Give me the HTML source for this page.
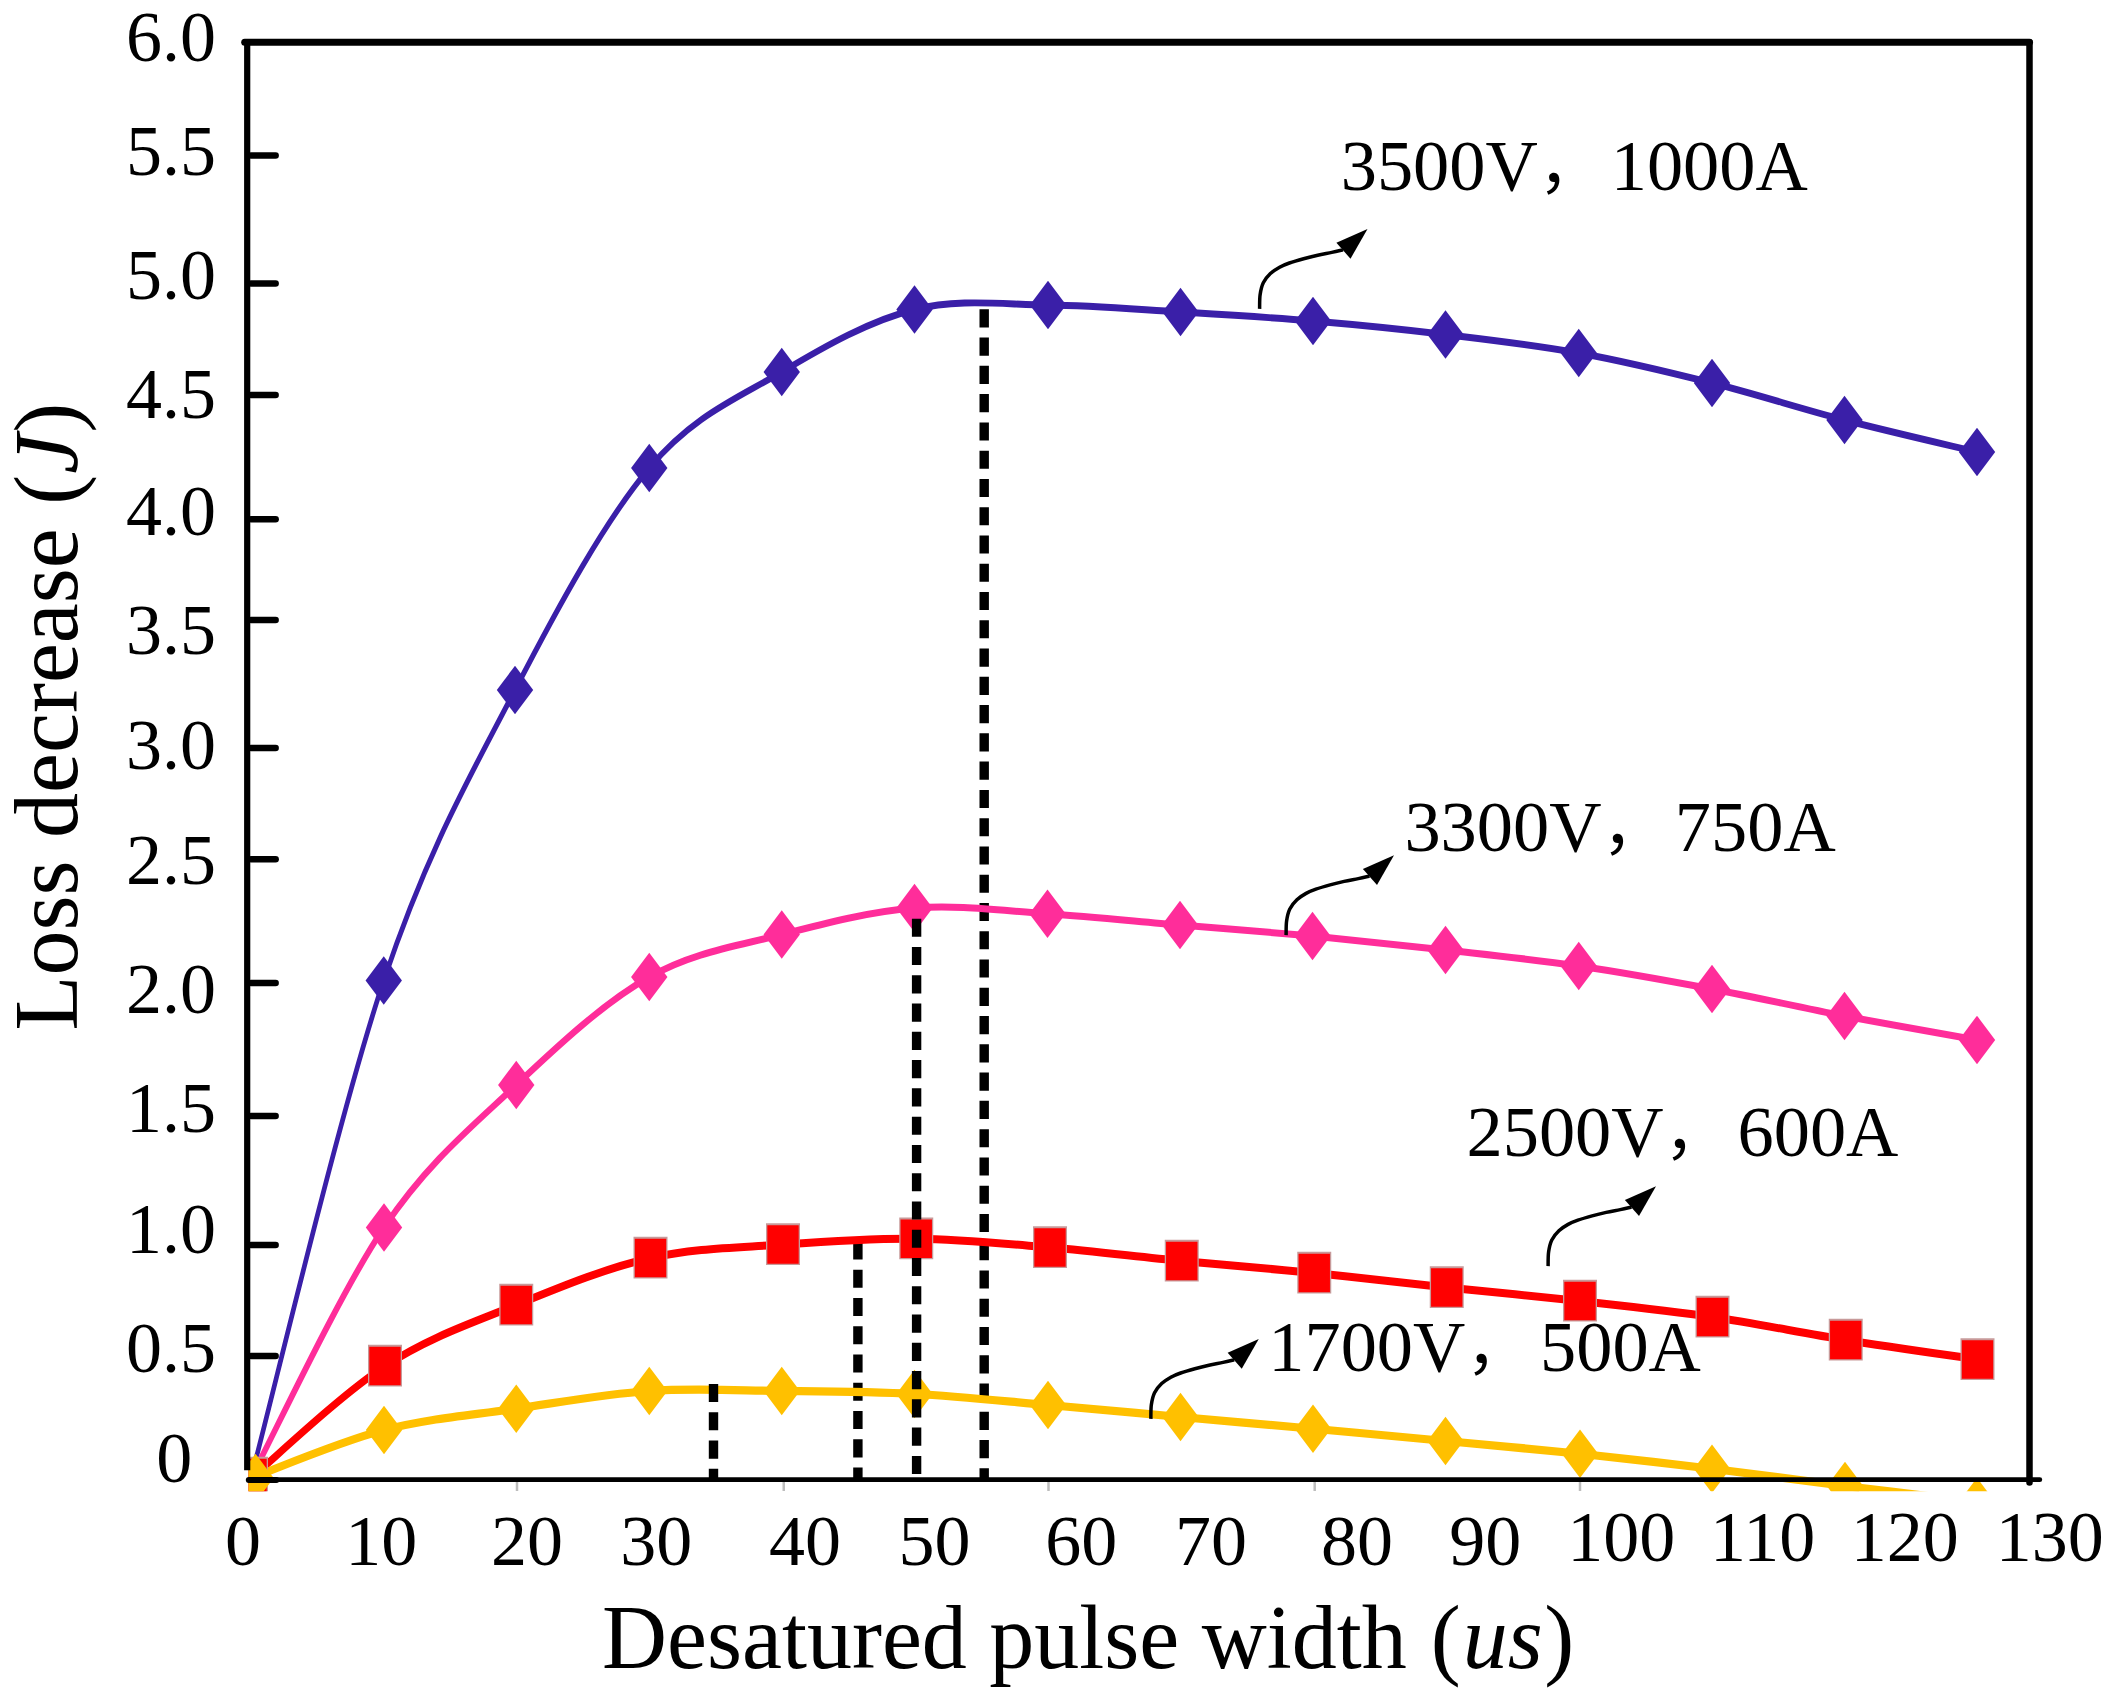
<!DOCTYPE html>
<html lang="en"><head><meta charset="utf-8"><title>Loss decrease vs desatured pulse width</title>
<style>
html,body{margin:0;padding:0;background:#fff;}
body{width:2118px;height:1699px;overflow:hidden;}
svg{display:block;}
text{font-family:"Liberation Serif", "Noto Serif CJK SC", serif;fill:#000;}
.t{font-size:72px;}
.lab{font-size:72.4px;}
.ttl{font-size:90px;}
tspan.cm{font-family:"Liberation Sans","Noto Sans CJK SC",sans-serif;font-size:64px;}
</style></head><body>
<svg width="2118" height="1699" viewBox="0 0 2118 1699">
<rect width="2118" height="1699" fill="#fff"/>
<defs><clipPath id="plot"><rect x="248.5" y="40" width="1790" height="1451.3"/></clipPath></defs>
<line x1="517" y1="1480" x2="517" y2="1491" stroke="#bdbdbd" stroke-width="2.5"/>
<line x1="783.75" y1="1480" x2="783.75" y2="1491" stroke="#bdbdbd" stroke-width="2.5"/>
<line x1="1048.5" y1="1480" x2="1048.5" y2="1491" stroke="#bdbdbd" stroke-width="2.5"/>
<line x1="1314.7" y1="1480" x2="1314.7" y2="1491" stroke="#bdbdbd" stroke-width="2.5"/>
<line x1="1580" y1="1480" x2="1580" y2="1491" stroke="#bdbdbd" stroke-width="2.5"/>
<g clip-path="url(#plot)">
<line x1="984.2" y1="309.3" x2="984.2" y2="1479" stroke="#000" stroke-width="9.4" stroke-dasharray="18.1 10.17"/>
<line x1="857.9" y1="1241.4" x2="857.9" y2="1482" stroke="#000" stroke-width="9.4" stroke-dasharray="18.1 10.17"/>
<g transform="scale(1,1.25)">
<path transform="scale(1,1.2)" d="M251.00,985.33 C273.12,930.06 339.75,741.22 383.75,653.67 C427.75,566.11 470.75,516.94 515.00,460.00 C559.25,403.06 604.79,347.33 649.25,312.00 C693.71,276.67 737.54,265.61 781.75,248.00 C825.96,230.39 870.12,213.78 914.50,206.33 C958.88,198.89 1003.67,203.06 1048.00,203.33 C1092.33,203.61 1136.33,206.22 1180.50,208.00 C1224.67,209.78 1268.83,211.50 1313.00,214.00 C1357.17,216.50 1401.21,219.44 1445.50,223.00 C1489.79,226.56 1534.33,229.94 1578.75,235.33 C1623.17,240.72 1667.71,247.89 1712.00,255.33 C1756.29,262.78 1800.33,272.33 1844.50,280.00 C1888.67,287.67 1954.92,297.78 1977.00,301.33" fill="none" stroke="#3a1fa8" stroke-width="4.6" stroke-linejoin="round"/>
<path d="M251.00,1182.40 C273.17,1149.00 339.79,1034.40 384.00,982.00 C428.21,929.60 472.04,901.40 516.25,868.00 C560.46,834.60 605.00,801.67 649.25,781.60 C693.50,761.53 737.54,756.80 781.75,747.60 C825.96,738.40 870.21,729.17 914.50,726.40 C958.79,723.63 1003.25,728.73 1047.50,731.00 C1091.75,733.27 1135.83,737.03 1180.00,740.00 C1224.17,742.97 1268.25,745.47 1312.50,748.80 C1356.75,752.13 1401.12,756.00 1445.50,760.00 C1489.88,764.00 1534.33,767.60 1578.75,772.80 C1623.17,778.00 1667.71,784.53 1712.00,791.20 C1756.29,797.87 1800.33,806.00 1844.50,812.80 C1888.67,819.60 1954.92,828.80 1977.00,832.00" fill="none" stroke="#ff2d9a" stroke-width="5.6" stroke-linejoin="round"/>
<path d="M251.00,1182.40 C273.33,1167.47 340.79,1115.87 385.00,1092.80 C429.21,1069.73 472.00,1058.40 516.25,1044.00 C560.50,1029.60 606.04,1014.47 650.50,1006.40 C694.96,998.33 738.71,998.17 783.00,995.60 C827.29,993.03 871.75,990.60 916.25,991.00 C960.75,991.40 1005.75,995.03 1050.00,998.00 C1094.25,1000.97 1137.71,1005.40 1181.75,1008.80 C1225.79,1012.20 1270.08,1014.87 1314.25,1018.40 C1358.42,1021.93 1402.46,1026.27 1446.75,1030.00 C1491.04,1033.73 1535.71,1036.87 1580.00,1040.80 C1624.29,1044.73 1668.21,1048.40 1712.50,1053.60 C1756.79,1058.80 1801.58,1066.33 1845.75,1072.00 C1889.92,1077.67 1955.54,1085.00 1977.50,1087.60" fill="none" stroke="#ff0000" stroke-width="6.4" stroke-linejoin="round"/>
<path d="M251.00,1182.40 C273.17,1176.00 339.79,1153.23 384.00,1144.00 C428.21,1134.77 472.04,1132.20 516.25,1127.00 C560.46,1121.80 605.00,1115.17 649.25,1112.80 C693.50,1110.43 737.54,1112.40 781.75,1112.80 C825.96,1113.20 870.12,1113.33 914.50,1115.20 C958.88,1117.07 1003.67,1120.93 1048.00,1124.00 C1092.33,1127.07 1136.33,1130.43 1180.50,1133.60 C1224.67,1136.77 1268.83,1139.80 1313.00,1143.00 C1357.17,1146.20 1401.00,1149.47 1445.50,1152.80 C1490.00,1156.13 1535.58,1159.30 1580.00,1163.00 C1624.42,1166.70 1667.83,1170.70 1712.00,1175.00 C1756.17,1179.30 1800.83,1184.37 1845.00,1188.80 C1889.17,1193.23 1955.00,1199.47 1977.00,1201.60" fill="none" stroke="#ffc000" stroke-width="6.6" stroke-linejoin="round"/>
<path d="M383.75,764.96 L401.95,784.40 L383.75,803.84 L365.55,784.40Z" fill="#3a1fa8"/>
<path d="M515.00,532.56 L533.20,552.00 L515.00,571.44 L496.80,552.00Z" fill="#3a1fa8"/>
<path d="M649.25,354.96 L667.45,374.40 L649.25,393.84 L631.05,374.40Z" fill="#3a1fa8"/>
<path d="M781.75,278.16 L799.95,297.60 L781.75,317.04 L763.55,297.60Z" fill="#3a1fa8"/>
<path d="M914.50,228.16 L932.70,247.60 L914.50,267.04 L896.30,247.60Z" fill="#3a1fa8"/>
<path d="M1048.00,224.56 L1066.20,244.00 L1048.00,263.44 L1029.80,244.00Z" fill="#3a1fa8"/>
<path d="M1180.50,230.16 L1198.70,249.60 L1180.50,269.04 L1162.30,249.60Z" fill="#3a1fa8"/>
<path d="M1313.00,237.36 L1331.20,256.80 L1313.00,276.24 L1294.80,256.80Z" fill="#3a1fa8"/>
<path d="M1445.50,248.16 L1463.70,267.60 L1445.50,287.04 L1427.30,267.60Z" fill="#3a1fa8"/>
<path d="M1578.75,262.96 L1596.95,282.40 L1578.75,301.84 L1560.55,282.40Z" fill="#3a1fa8"/>
<path d="M1712.00,286.96 L1730.20,306.40 L1712.00,325.84 L1693.80,306.40Z" fill="#3a1fa8"/>
<path d="M1844.50,316.56 L1862.70,336.00 L1844.50,355.44 L1826.30,336.00Z" fill="#3a1fa8"/>
<path d="M1977.00,342.16 L1995.20,361.60 L1977.00,381.04 L1958.80,361.60Z" fill="#3a1fa8"/>
<path d="M384.00,962.56 L402.20,982.00 L384.00,1001.44 L365.80,982.00Z" fill="#ff2d9a"/>
<path d="M516.25,848.56 L534.45,868.00 L516.25,887.44 L498.05,868.00Z" fill="#ff2d9a"/>
<path d="M649.25,762.16 L667.45,781.60 L649.25,801.04 L631.05,781.60Z" fill="#ff2d9a"/>
<path d="M781.75,728.16 L799.95,747.60 L781.75,767.04 L763.55,747.60Z" fill="#ff2d9a"/>
<path d="M914.50,706.96 L932.70,726.40 L914.50,745.84 L896.30,726.40Z" fill="#ff2d9a"/>
<path d="M1047.50,711.56 L1065.70,731.00 L1047.50,750.44 L1029.30,731.00Z" fill="#ff2d9a"/>
<path d="M1180.00,720.56 L1198.20,740.00 L1180.00,759.44 L1161.80,740.00Z" fill="#ff2d9a"/>
<path d="M1312.50,729.36 L1330.70,748.80 L1312.50,768.24 L1294.30,748.80Z" fill="#ff2d9a"/>
<path d="M1445.50,740.56 L1463.70,760.00 L1445.50,779.44 L1427.30,760.00Z" fill="#ff2d9a"/>
<path d="M1578.75,753.36 L1596.95,772.80 L1578.75,792.24 L1560.55,772.80Z" fill="#ff2d9a"/>
<path d="M1712.00,771.76 L1730.20,791.20 L1712.00,810.64 L1693.80,791.20Z" fill="#ff2d9a"/>
<path d="M1844.50,793.36 L1862.70,812.80 L1844.50,832.24 L1826.30,812.80Z" fill="#ff2d9a"/>
<path d="M1977.00,812.56 L1995.20,832.00 L1977.00,851.44 L1958.80,832.00Z" fill="#ff2d9a"/>
<rect x="234.00" y="1165.40" width="34.00" height="33.40" fill="#c79a9a"/>
<rect x="235.30" y="1167.00" width="31.40" height="30.80" fill="#ff0000"/>
<rect x="368.00" y="1075.80" width="34.00" height="33.40" fill="#c79a9a"/>
<rect x="369.30" y="1077.40" width="31.40" height="30.80" fill="#ff0000"/>
<rect x="499.25" y="1027.00" width="34.00" height="33.40" fill="#c79a9a"/>
<rect x="500.55" y="1028.60" width="31.40" height="30.80" fill="#ff0000"/>
<rect x="633.50" y="989.40" width="34.00" height="33.40" fill="#c79a9a"/>
<rect x="634.80" y="991.00" width="31.40" height="30.80" fill="#ff0000"/>
<rect x="766.00" y="978.60" width="34.00" height="33.40" fill="#c79a9a"/>
<rect x="767.30" y="980.20" width="31.40" height="30.80" fill="#ff0000"/>
<rect x="899.25" y="974.00" width="34.00" height="33.40" fill="#c79a9a"/>
<rect x="900.55" y="975.60" width="31.40" height="30.80" fill="#ff0000"/>
<rect x="1033.00" y="981.00" width="34.00" height="33.40" fill="#c79a9a"/>
<rect x="1034.30" y="982.60" width="31.40" height="30.80" fill="#ff0000"/>
<rect x="1164.75" y="991.80" width="34.00" height="33.40" fill="#c79a9a"/>
<rect x="1166.05" y="993.40" width="31.40" height="30.80" fill="#ff0000"/>
<rect x="1297.25" y="1001.40" width="34.00" height="33.40" fill="#c79a9a"/>
<rect x="1298.55" y="1003.00" width="31.40" height="30.80" fill="#ff0000"/>
<rect x="1429.75" y="1013.00" width="34.00" height="33.40" fill="#c79a9a"/>
<rect x="1431.05" y="1014.60" width="31.40" height="30.80" fill="#ff0000"/>
<rect x="1563.00" y="1023.80" width="34.00" height="33.40" fill="#c79a9a"/>
<rect x="1564.30" y="1025.40" width="31.40" height="30.80" fill="#ff0000"/>
<rect x="1695.50" y="1036.60" width="34.00" height="33.40" fill="#c79a9a"/>
<rect x="1696.80" y="1038.20" width="31.40" height="30.80" fill="#ff0000"/>
<rect x="1828.75" y="1055.00" width="34.00" height="33.40" fill="#c79a9a"/>
<rect x="1830.05" y="1056.60" width="31.40" height="30.80" fill="#ff0000"/>
<rect x="1960.50" y="1070.60" width="34.00" height="33.40" fill="#c79a9a"/>
<rect x="1961.80" y="1072.20" width="31.40" height="30.80" fill="#ff0000"/>
<path d="M255.50,1162.96 L273.70,1182.40 L255.50,1201.84 L237.30,1182.40Z" fill="#ffc000"/>
<path d="M384.00,1124.56 L402.20,1144.00 L384.00,1163.44 L365.80,1144.00Z" fill="#ffc000"/>
<path d="M516.25,1107.56 L534.45,1127.00 L516.25,1146.44 L498.05,1127.00Z" fill="#ffc000"/>
<path d="M649.25,1093.36 L667.45,1112.80 L649.25,1132.24 L631.05,1112.80Z" fill="#ffc000"/>
<path d="M781.75,1093.36 L799.95,1112.80 L781.75,1132.24 L763.55,1112.80Z" fill="#ffc000"/>
<path d="M914.50,1095.76 L932.70,1115.20 L914.50,1134.64 L896.30,1115.20Z" fill="#ffc000"/>
<path d="M1048.00,1104.56 L1066.20,1124.00 L1048.00,1143.44 L1029.80,1124.00Z" fill="#ffc000"/>
<path d="M1180.50,1114.16 L1198.70,1133.60 L1180.50,1153.04 L1162.30,1133.60Z" fill="#ffc000"/>
<path d="M1313.00,1123.56 L1331.20,1143.00 L1313.00,1162.44 L1294.80,1143.00Z" fill="#ffc000"/>
<path d="M1445.50,1133.36 L1463.70,1152.80 L1445.50,1172.24 L1427.30,1152.80Z" fill="#ffc000"/>
<path d="M1580.00,1143.56 L1598.20,1163.00 L1580.00,1182.44 L1561.80,1163.00Z" fill="#ffc000"/>
<path d="M1712.00,1155.56 L1730.20,1175.00 L1712.00,1194.44 L1693.80,1175.00Z" fill="#ffc000"/>
<path d="M1845.00,1169.36 L1863.20,1188.80 L1845.00,1208.24 L1826.80,1188.80Z" fill="#ffc000"/>
<path d="M1977.00,1182.16 L1995.20,1201.60 L1977.00,1221.04 L1958.80,1201.60Z" fill="#ffc000"/>
</g>
<line x1="916.6" y1="918.75" x2="916.6" y2="1474" stroke="#000" stroke-width="9.4" stroke-dasharray="18.1 10.17"/>
<line x1="713.5" y1="1384" x2="713.5" y2="1479" stroke="#000" stroke-width="9.4" stroke-dasharray="18.1 10.17"/>
</g>
<line x1="247.2" y1="42.2" x2="247.2" y2="1470.3" stroke="#000" stroke-width="6.2"/>
<line x1="244.7" y1="42.2" x2="2029.5" y2="42.2" stroke="#000" stroke-width="7" stroke-linecap="round"/>
<line x1="2029.5" y1="42.2" x2="2029.5" y2="1482.5" stroke="#000" stroke-width="6.5" stroke-linecap="round"/>
<line x1="252" y1="1479.7" x2="2039.8" y2="1479.7" stroke="#000" stroke-width="4.8" stroke-linecap="round"/>
<line x1="248.8" y1="1480" x2="276.4" y2="1480" stroke="#000" stroke-width="6" stroke-linecap="round"/>
<line x1="251" y1="155.5" x2="275.6" y2="155.5" stroke="#000" stroke-width="6.6" stroke-linecap="round"/>
<line x1="251" y1="283.5" x2="275.6" y2="283.5" stroke="#000" stroke-width="6.6" stroke-linecap="round"/>
<line x1="251" y1="395.0" x2="275.6" y2="395.0" stroke="#000" stroke-width="6.6" stroke-linecap="round"/>
<line x1="251" y1="519.25" x2="275.6" y2="519.25" stroke="#000" stroke-width="6.6" stroke-linecap="round"/>
<line x1="251" y1="620.0" x2="275.6" y2="620.0" stroke="#000" stroke-width="6.6" stroke-linecap="round"/>
<line x1="251" y1="748.0" x2="275.6" y2="748.0" stroke="#000" stroke-width="6.6" stroke-linecap="round"/>
<line x1="251" y1="859.25" x2="275.6" y2="859.25" stroke="#000" stroke-width="6.6" stroke-linecap="round"/>
<line x1="251" y1="983.0" x2="275.6" y2="983.0" stroke="#000" stroke-width="6.6" stroke-linecap="round"/>
<line x1="251" y1="1116.0" x2="275.6" y2="1116.0" stroke="#000" stroke-width="6.6" stroke-linecap="round"/>
<line x1="251" y1="1245.0" x2="275.6" y2="1245.0" stroke="#000" stroke-width="6.6" stroke-linecap="round"/>
<line x1="251" y1="1356.0" x2="275.6" y2="1356.0" stroke="#000" stroke-width="6.6" stroke-linecap="round"/>
<text class="t" x="126" y="61">6.0</text>
<text class="t" x="126" y="175">5.5</text>
<text class="t" x="126" y="299">5.0</text>
<text class="t" x="126" y="418">4.5</text>
<text class="t" x="126" y="534.5">4.0</text>
<text class="t" x="126" y="653.75">3.5</text>
<text class="t" x="126" y="768.75">3.0</text>
<text class="t" x="126" y="883.75">2.5</text>
<text class="t" x="126" y="1012.5">2.0</text>
<text class="t" x="126" y="1132">1.5</text>
<text class="t" x="126" y="1252.5">1.0</text>
<text class="t" x="126" y="1372">0.5</text>
<text class="t" x="156.3" y="1482">0</text>
<text class="t" x="225" y="1565">0</text>
<text class="t" x="345.3" y="1565">10</text>
<text class="t" x="491.1" y="1565">20</text>
<text class="t" x="620.2" y="1565">30</text>
<text class="t" x="769.1" y="1565">40</text>
<text class="t" x="898.4" y="1565">50</text>
<text class="t" x="1045.3" y="1565">60</text>
<text class="t" x="1175" y="1565">70</text>
<text class="t" x="1321" y="1565">80</text>
<text class="t" x="1449.3" y="1565">90</text>
<text class="t" x="1567.3" y="1561">100</text>
<text class="t" x="1710" y="1561">110</text>
<text class="t" x="1850.7" y="1561">120</text>
<text class="t" x="1995.7" y="1561">130</text>
<path d="M1259.60,308.90 C1259.68,306.55 1259.48,299.15 1260.10,294.80 C1260.72,290.45 1261.58,286.33 1263.30,282.80 C1265.02,279.27 1267.68,276.20 1270.40,273.60 C1273.12,271.00 1276.43,268.97 1279.60,267.20 C1282.77,265.43 1285.40,264.42 1289.40,263.00 C1293.40,261.58 1298.88,260.00 1303.60,258.70 C1308.32,257.40 1313.00,256.25 1317.70,255.20 C1322.40,254.15 1327.58,253.28 1331.80,252.40 C1336.02,251.52 1341.13,250.32 1343.00,249.90" fill="none" stroke="#000" stroke-width="3.5" stroke-linecap="butt"/>
<path d="M1367.50,229.10 L1336.40,242.80 L1350.50,258.70Z" fill="#000"/>
<path d="M1286.10,935.10 C1286.18,932.75 1285.98,925.35 1286.60,921.00 C1287.22,916.65 1288.08,912.53 1289.80,909.00 C1291.52,905.47 1294.18,902.40 1296.90,899.80 C1299.62,897.20 1302.93,895.17 1306.10,893.40 C1309.27,891.63 1311.90,890.62 1315.90,889.20 C1319.90,887.78 1325.38,886.20 1330.10,884.90 C1334.82,883.60 1339.50,882.45 1344.20,881.40 C1348.90,880.35 1354.08,879.48 1358.30,878.60 C1362.52,877.72 1367.63,876.52 1369.50,876.10" fill="none" stroke="#000" stroke-width="3.5" stroke-linecap="butt"/>
<path d="M1394.00,855.30 L1362.90,869.00 L1377.00,884.90Z" fill="#000"/>
<path d="M1548.10,1266.10 C1548.18,1263.75 1547.98,1256.35 1548.60,1252.00 C1549.22,1247.65 1550.08,1243.53 1551.80,1240.00 C1553.52,1236.47 1556.18,1233.40 1558.90,1230.80 C1561.62,1228.20 1564.93,1226.17 1568.10,1224.40 C1571.27,1222.63 1573.90,1221.62 1577.90,1220.20 C1581.90,1218.78 1587.38,1217.20 1592.10,1215.90 C1596.82,1214.60 1601.50,1213.45 1606.20,1212.40 C1610.90,1211.35 1616.08,1210.48 1620.30,1209.60 C1624.52,1208.72 1629.63,1207.52 1631.50,1207.10" fill="none" stroke="#000" stroke-width="3.5" stroke-linecap="butt"/>
<path d="M1656.00,1186.30 L1624.90,1200.00 L1639.00,1215.90Z" fill="#000"/>
<path d="M1150.85,1418.90 C1150.93,1416.55 1150.73,1409.15 1151.35,1404.80 C1151.97,1400.45 1152.83,1396.33 1154.55,1392.80 C1156.27,1389.27 1158.93,1386.20 1161.65,1383.60 C1164.37,1381.00 1167.68,1378.97 1170.85,1377.20 C1174.02,1375.43 1176.65,1374.42 1180.65,1373.00 C1184.65,1371.58 1190.13,1370.00 1194.85,1368.70 C1199.57,1367.40 1204.25,1366.25 1208.95,1365.20 C1213.65,1364.15 1218.83,1363.28 1223.05,1362.40 C1227.27,1361.52 1232.38,1360.32 1234.25,1359.90" fill="none" stroke="#000" stroke-width="3.5" stroke-linecap="butt"/>
<path d="M1258.75,1339.10 L1227.65,1352.80 L1241.75,1368.70Z" fill="#000"/>
<text class="lab" x="1340.7" y="189.5">3500V<tspan class="cm" x="1538.27" y="186.5">，</tspan><tspan x="1610.7" y="189.5">1000A</tspan></text>
<text class="lab" x="1404.4" y="851">3300V<tspan class="cm" x="1601.97" y="848">，</tspan><tspan x="1674.8" y="851">750A</tspan></text>
<text class="lab" x="1466.5" y="1156">2500V<tspan class="cm" x="1664.07" y="1153">，</tspan><tspan x="1737.5" y="1156">600A</tspan></text>
<text class="lab" x="1268.25" y="1371">1700V<tspan class="cm" x="1465.82" y="1368">，</tspan><tspan x="1540" y="1371">500A</tspan></text>
<text class="ttl" id="xt" x="602" y="1668.3">Desatured pulse width <tspan dx="1.5">(</tspan><tspan font-style="italic" dx="2">us</tspan><tspan dx="1.5">)</tspan></text>
<text class="ttl" id="yt" transform="translate(76.8,1030.5) rotate(-90)">Loss decrease <tspan dx="1">(</tspan><tspan font-style="italic" dx="1">J</tspan><tspan dx="1">)</tspan></text>
</svg></body></html>
